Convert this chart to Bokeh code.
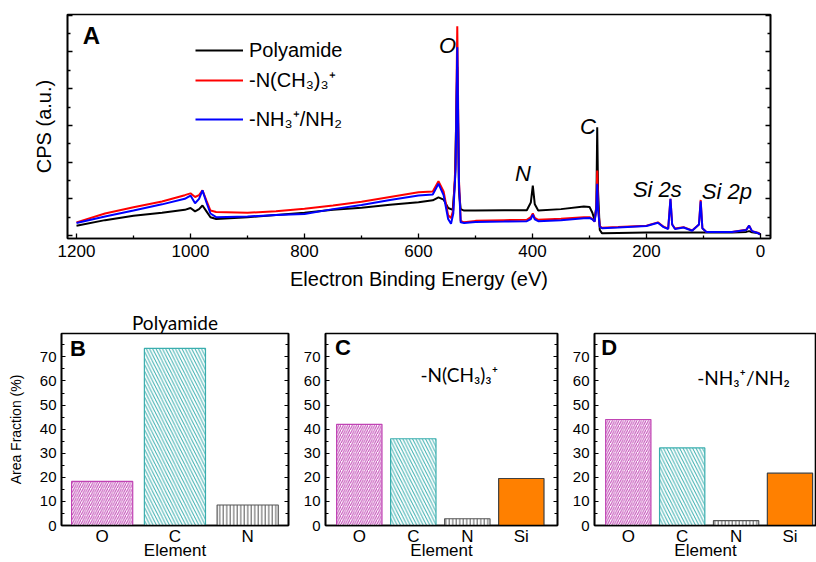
from bokeh.plotting import figure
from bokeh.layouts import column, row
from bokeh.models import (Range1d, FixedTicker, LinearAxis, Label, Legend, LegendItem,
                          CustomJSTickFormatter, ColumnDataSource)
from bokeh.embed import file_html
from bokeh.resources import INLINE

# ---------------- data: XPS survey spectra ----------------
energy_polyamide = [1200, 1150, 1100, 1050, 1010, 1000, 992, 985, 979, 972, 965, 955, 900, 850, 800,
                    750, 700, 650, 600, 575, 565, 556, 548, 540, 536, 532, 529, 526, 520, 500, 450,
                    410, 403, 399.5, 396, 390, 350, 310, 300, 295, 291, 288, 286.5, 285, 282, 278,
                    250, 200, 150, 100, 50, 25, 20, 15, 5, 0]
cps_polyamide = [0.27, 0.42, 0.54, 0.62, 0.70, 0.75, 0.66, 0.72, 0.82, 0.66, 0.50, 0.45, 0.50, 0.56, 0.62,
                 0.70, 0.76, 0.84, 0.91, 0.96, 1.04, 0.98, 0.75, 0.70, 1.50, 4.60, 1.20, 0.72, 0.68, 0.68, 0.69,
                 0.69, 0.90, 1.36, 0.85, 0.68, 0.72, 0.79, 0.78, 0.62, 0.42, 0.80, 2.95, 1.20, 0.15, 0.06,
                 0.07, 0.08, 0.08, 0.08, 0.08, 0.10, 0.12, 0.09, 0.07, 0.03]

energy_nme3 = [1200, 1150, 1100, 1050, 1010, 1000, 992, 985, 979, 972, 965, 955, 900, 850, 800,
               750, 700, 650, 600, 575, 565, 556, 548, 543, 539, 535, 532, 529, 526, 520, 500, 450,
               410, 403, 399.5, 396, 390, 350, 310, 300, 295, 291, 288, 286.5, 285, 282, 278,
               250, 200, 180, 170, 162, 158, 155, 150, 135, 120, 108, 105, 102, 95, 50, 25, 20, 15, 5, 0]
cps_nme3 = [0.36, 0.60, 0.77, 0.93, 1.10, 1.15, 1.05, 1.10, 1.23, 0.95, 0.68, 0.64, 0.62, 0.66, 0.73,
            0.82, 0.92, 1.05, 1.18, 1.20, 1.48, 1.20, 0.55, 0.48, 0.70, 2.00, 5.70, 1.50, 0.40, 0.36, 0.40, 0.42,
            0.43, 0.50, 0.60, 0.48, 0.43, 0.46, 0.50, 0.50, 0.45, 0.38, 0.80, 1.77, 0.80, 0.25, 0.21,
            0.23, 0.27, 0.36, 0.24, 0.19, 1.00, 0.30, 0.19, 0.23, 0.14, 0.30, 0.97, 0.20, 0.10, 0.10, 0.16, 0.27, 0.12, 0.08, 0.03]

energy_nh3 = [1200, 1150, 1100, 1050, 1010, 1000, 992, 985, 979, 972, 965, 955, 900, 850, 800,
              750, 700, 650, 600, 575, 565, 556, 548, 543, 539, 535, 532, 529, 526, 520, 500, 450,
              410, 403, 399.5, 396, 390, 350, 310, 300, 295, 291, 288, 286.5, 285, 282, 278,
              250, 200, 180, 170, 162, 158, 155, 150, 135, 120, 108, 105, 102, 95, 50, 25, 20, 15, 5, 0]
cps_nh3 = [0.34, 0.52, 0.68, 0.85, 1.00, 1.09, 0.88, 1.00, 1.23, 0.90, 0.60, 0.50, 0.52, 0.56, 0.59,
           0.72, 0.83, 0.97, 1.09, 1.12, 1.41, 1.10, 0.45, 0.32, 0.60, 1.80, 5.13, 1.40, 0.36, 0.34, 0.37, 0.38,
           0.39, 0.45, 0.57, 0.44, 0.39, 0.42, 0.47, 0.48, 0.44, 0.38, 0.75, 1.41, 0.70, 0.24, 0.20,
           0.22, 0.26, 0.35, 0.23, 0.18, 1.00, 0.30, 0.18, 0.22, 0.13, 0.30, 0.93, 0.20, 0.10, 0.10, 0.15, 0.27, 0.12, 0.07, 0.03]

series_labels = ["Polyamide", "-N(CH\u2083)\u2083\u207a", "-NH\u2083\u207a/NH\u2082"]

peak_labels = ["O", "N", "C", "Si 2s", "Si 2p"]
peak_label_x = [549, 417, 302.6, 181, 59]
peak_label_y = [5.18, 1.68, 2.98, 1.25, 1.21]

energy_ticks = [0, 200, 400, 600, 800, 1000, 1200]
energy_minor = [100, 300, 500, 700, 900, 1100]

# ---------------- data: area fractions ----------------
elements_b = ["O", "C", "N"]
fraction_b = [18.3, 73.5, 8.5]
elements_c = ["O", "C", "N", "Si"]
fraction_c = [42.0, 36.0, 2.8, 19.5]
elements_d = ["O", "C", "N", "Si"]
fraction_d = [44.0, 32.2, 2.0, 21.7]

frac_ticks = [0, 10, 20, 30, 40, 50, 60, 70]
frac_minor = [5, 15, 25, 35, 45, 55, 65, 75]

FONT = "Liberation Sans"
CAL = "Lato"

# ---------------- panel A ----------------
top = figure(width=816, height=308, output_backend="svg", toolbar_location=None,
             x_range=Range1d(1215.8, -17.5), y_range=Range1d(-0.08, 6.02),
             min_border_left=67, min_border_right=46, min_border_top=14, min_border_bottom=70,
             y_axis_location="left")
top.xgrid.visible = False
top.ygrid.visible = False
top.outline_line_color = "black"
top.outline_line_width = 1.6
top.background_fill_color = "white"
top.border_fill_color = "white"

r_black = top.line(energy_polyamide, cps_polyamide, line_color="black", line_width=2)
r_red = top.line(energy_nme3, cps_nme3, line_color="#ff0000", line_width=2)
r_blue = top.line(energy_nh3, cps_nh3, line_color="#0000ff", line_width=2)

xa = top.xaxis[0]
xa.ticker = FixedTicker(ticks=energy_ticks, minor_ticks=energy_minor)
xa.major_tick_in = 5
xa.major_tick_out = 0
xa.minor_tick_in = 3
xa.minor_tick_out = 0
xa.axis_line_width = 1.6
xa.major_tick_line_width = 1.3
xa.minor_tick_line_width = 1.3
xa.major_label_text_font = FONT
xa.major_label_text_font_size = "17px"
xa.major_label_text_color = "black"
xa.major_label_standoff = 6
xa.axis_label = "Electron Binding Energy (eV)"
xa.axis_label_text_font = FONT
xa.axis_label_text_font_size = "20px"
xa.axis_label_text_font_style = "normal"
xa.axis_label_text_color = "black"
xa.axis_label_standoff = 8

cps_ticks = [0, 1, 2, 3, 4, 5, 6]
cps_minor = [0.5, 1.5, 2.5, 3.5, 4.5, 5.5]
ya = top.yaxis[0]
ya.ticker = FixedTicker(ticks=cps_ticks, minor_ticks=cps_minor)
ya.formatter = CustomJSTickFormatter(code="return ''")
ya.major_tick_in = 5
ya.major_tick_out = 0
ya.minor_tick_in = 3
ya.minor_tick_out = 0
ya.axis_line_width = 1.6
ya.major_tick_line_width = 1.3
ya.minor_tick_line_width = 1.3
ya.major_label_standoff = 0
ya.axis_label = "CPS (a.u.)"
ya.axis_label_text_font = FONT
ya.axis_label_text_font_size = "20px"
ya.axis_label_text_font_style = "normal"
ya.axis_label_text_color = "black"
ya.axis_label_standoff = 13

ra = LinearAxis(ticker=FixedTicker(ticks=cps_ticks, minor_ticks=cps_minor),
                formatter=CustomJSTickFormatter(code="return ''"),
                major_tick_in=5, major_tick_out=0, minor_tick_in=3, minor_tick_out=0,
                axis_line_width=1.6, major_tick_line_width=1.3, minor_tick_line_width=1.3,
                major_label_standoff=0)
top.add_layout(ra, "right")

# one legend block per entry so the uneven vertical spacing of the original is kept
legend_offsets = [175, 145, 106]
for lbl, rend, yoff in zip(series_labels, [r_black, r_red, r_blue], legend_offsets):
    lg = Legend(items=[LegendItem(label=lbl, renderers=[rend])],
                location=(128, yoff), border_line_color=None, background_fill_alpha=0,
                padding=0, margin=0, spacing=0, glyph_width=48, glyph_height=26,
                label_height=26, label_standoff=6, label_text_font=FONT,
                label_text_font_size="20px", label_text_color="black")
    top.add_layout(lg)

for t, x, y in zip(peak_labels, peak_label_x, peak_label_y):
    top.add_layout(Label(x=x, y=y, text=t, text_font=FONT, text_font_style="italic",
                         text_font_size="22px", text_align="center", text_baseline="middle",
                         text_color="black"))
top.add_layout(Label(x=1173.7, y=5.45, text="A", text_font=FONT, text_font_style="bold",
                     text_font_size="24px", text_align="center", text_baseline="middle",
                     text_color="black"))

# ---------------- bar panels ----------------
STYLE = {
    "O": dict(fill="white", line="#c044b4", hatch="/", hcolor="#c044b4", hscale=4.5),
    "C": dict(fill="white", line="#3aaeae", hatch="\\", hcolor="#3aaeae", hscale=6.5),
    "N": dict(fill="white", line="#555555", hatch="|", hcolor="#555555", hscale=3.5),
    "Si": dict(fill="#ff8000", line="#404040", hatch=" ", hcolor="#404040", hscale=4),
}


def bar_panel(cats, vals, width, bl, br, xr, letter, letter_xy, note=None, note_xy=None,
              title=None, ylabel=None, right_axis=True):
    p = figure(width=width, height=254, output_backend="svg", toolbar_location=None,
               x_range=Range1d(*xr), y_range=Range1d(0, 79.7),
               min_border_left=bl, min_border_right=br, min_border_top=25, min_border_bottom=10)
    p.xgrid.visible = False
    p.ygrid.visible = False
    p.outline_line_color = "black"
    p.outline_line_width = 1.6
    if title:
        p.title.text = title
        p.title.text_font = CAL
        p.title.text_font_size = "19px"
        p.title.text_font_style = "normal"
        p.title.text_color = "black"
        p.title.align = "center"
        p.title.standoff = 0
        p.title.offset = 0
    idx = list(range(len(cats)))
    src = ColumnDataSource(dict(
        x=idx, top=vals,
        fill=[STYLE[c]["fill"] for c in cats],
        line=[STYLE[c]["line"] for c in cats],
        hatch=[STYLE[c]["hatch"] for c in cats],
        hcolor=[STYLE[c]["hcolor"] for c in cats],
        hscale=[STYLE[c]["hscale"] for c in cats],
    ))
    p.vbar(x="x", top="top", bottom=0, width=0.84, source=src, fill_color="fill",
           line_color="line", line_width=1.2, hatch_pattern="hatch", hatch_color="hcolor",
           hatch_scale="hscale", hatch_weight=1.0)

    xa = p.xaxis[0]
    xa.ticker = FixedTicker(ticks=idx)
    xa.major_label_overrides = {i: c for i, c in zip(idx, cats)}
    xa.major_tick_in = 0
    xa.major_tick_out = 0
    xa.minor_tick_in = 0
    xa.minor_tick_out = 0
    xa.axis_line_width = 1.6
    xa.major_label_text_font = FONT
    xa.major_label_text_font_size = "17px"
    xa.major_label_text_color = "black"
    xa.major_label_standoff = 1
    xa.axis_label = "Element"
    xa.axis_label_text_font = FONT
    xa.axis_label_text_font_size = "17px"
    xa.axis_label_text_font_style = "normal"
    xa.axis_label_text_color = "black"
    xa.axis_label_standoff = -8

    ya = p.yaxis[0]
    ya.ticker = FixedTicker(ticks=frac_ticks, minor_ticks=frac_minor)
    ya.major_tick_in = 4
    ya.major_tick_out = 0
    ya.minor_tick_in = 3
    ya.minor_tick_out = 0
    ya.axis_line_width = 1.6
    ya.major_tick_line_width = 1.2
    ya.minor_tick_line_width = 1.2
    ya.major_label_text_font = FONT
    ya.major_label_text_font_size = "15px"
    ya.major_label_text_color = "black"
    ya.major_label_standoff = 5
    if ylabel:
        ya.axis_label = ylabel
        ya.axis_label_text_font = FONT
        ya.axis_label_text_font_size = "14px"
        ya.axis_label_text_font_style = "normal"
        ya.axis_label_text_color = "black"
        ya.axis_label_standoff = 13
    if right_axis:
        rax = LinearAxis(ticker=FixedTicker(ticks=frac_ticks, minor_ticks=frac_minor),
                         formatter=CustomJSTickFormatter(code="return ''"),
                         major_tick_in=4, major_tick_out=0, minor_tick_in=3, minor_tick_out=0,
                         axis_line_width=1.6, major_tick_line_width=1.2, minor_tick_line_width=1.2,
                         major_label_standoff=0)
        p.add_layout(rax, "right")

    p.add_layout(Label(x=letter_xy[0], y=letter_xy[1], text=letter, text_font=FONT,
                       text_font_style="bold", text_font_size="22px", text_align="center",
                       text_baseline="middle", text_color="black"))
    if note:
        p.add_layout(Label(x=note_xy[0], y=note_xy[1], text=note, text_font=CAL,
                           text_font_size="19px", text_align="left", text_baseline="middle",
                           text_color="black"))
    return p


pb = bar_panel(elements_b, fraction_b, 296, 61, 8, (-0.559, 2.561), "B", (-0.332, 73.6),
               title="Polyamide", ylabel="Area Fraction (%)")
pc = bar_panel(elements_c, fraction_c, 269, 29, 8, (-0.626, 3.670), "C", (-0.302, 74.0),
               note=series_labels[1], note_xy=(1.133, 62.8))
pd_ = bar_panel(elements_d, fraction_d, 251, 29, 0, (-0.627, 3.492), "D", (-0.354, 73.8),
                note=series_labels[2], note_xy=(1.278, 61.5), right_axis=False)

layout = column(top, row(pb, pc, pd_, spacing=0), spacing=0)

open("out.html", "w").write(file_html(layout, INLINE))
